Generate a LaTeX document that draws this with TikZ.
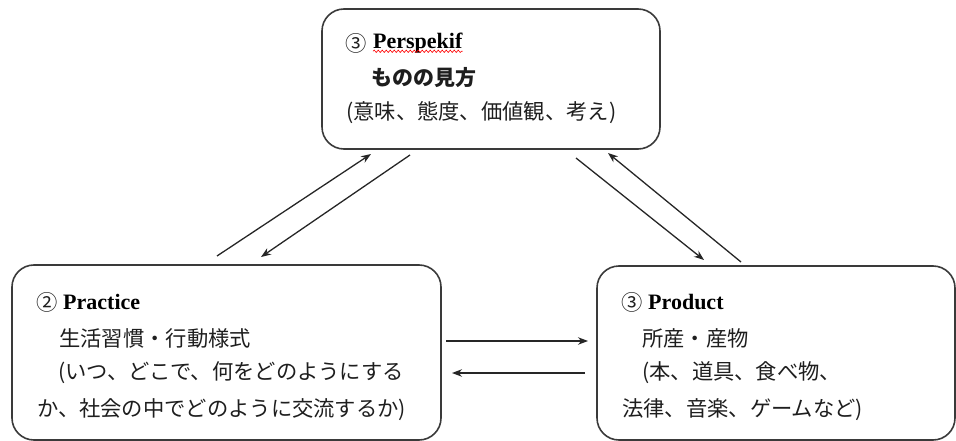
\documentclass[tikz,border=0pt]{standalone}
\usepackage{fontspec}
\setmainfont{Liberation Serif}
\newfontfamily\jp{Noto Sans CJK JP}
\usetikzlibrary{arrows.meta,decorations.pathmorphing}
\definecolor{boxline}{HTML}{3A3A3A}
\definecolor{txt}{HTML}{1E1E1E}
\tikzset{
  box/.style={draw=boxline, line width=1.6pt, rounded corners=22pt, inner sep=0pt},
  txtline/.style={anchor=west, inner sep=0pt, text=txt, font=\jp\fontsize{21.3}{25}\selectfont},
  head/.style={anchor=west, inner sep=0pt, text=black, font=\fontsize{22}{26}\selectfont\bfseries},
  conn/.style={line width=1.3pt, draw=black!85, -{Stealth[length=10pt,width=7.5pt]}}
}
\begin{document}
\begin{tikzpicture}[x=1pt,y=-1pt]
\useasboundingbox (0,0) rectangle (956,441);
% boxes
\node[box, minimum width=338pt, minimum height=140pt] (persp) at (491,79) {};
\node[box, minimum width=429pt, minimum height=175pt] (pract) at (226.5,352.5) {};
\node[box, minimum width=358pt, minimum height=174pt] (prod) at (776,353) {};
% top box text
\node[txtline] (p1a) at (345,43) {③};
\node[head] (p1b) at (373,43) {Perspekif};
\draw[red, line width=0.6pt, decorate, decoration={snake, amplitude=1.2pt, segment length=4pt}] (p1b.south west) ++(0,-2) coordinate (w1) -- (p1b.south east |- w1) coordinate (w2);
\node[txtline, font=\jp\bfseries\fontsize{21}{25}\selectfont] (p2) at (371,78) {ものの見方};
\node[txtline] (p3) at (346,113) {(意味、態度、価値観、考え)};
% left box text
\node[txtline] (l1a) at (36,302) {②};
\node[head] (l1b) at (63,302) {Practice};
\node[txtline] (l2) at (59,338) {生活習慣・行動様式};
\node[txtline] (l3) at (58,373) {(いつ、どこで、何をどのようにする};
\node[txtline] (l4) at (37,410) {か、社会の中でどのように交流するか)};
% right box text
\node[txtline] (r1a) at (621,302) {③};
\node[head] (r1b) at (648,302) {Product};
\node[txtline] (r2) at (642,338) {所産・産物};
\node[txtline] (r3) at (642,373) {(本、道具、食べ物、};
\node[txtline] (r4) at (622,410) {法律、音楽、ゲームなど)};
% connector end points
\coordinate (a1s) at (217,256); \coordinate (a1e) at (371,154);
\coordinate (a2s) at (410,155); \coordinate (a2e) at (261,257);
\coordinate (a3s) at (576,158); \coordinate (a3e) at (704,260);
\coordinate (a4s) at (741,262); \coordinate (a4e) at (608,153);
\coordinate (h1s) at (446,341); \coordinate (h1e) at (588,341);
\coordinate (h2s) at (585,373); \coordinate (h2e) at (452,373);
\draw[conn] (a1s) -- (a1e);
\draw[conn] (a2s) -- (a2e);
\draw[conn] (a3s) -- (a3e);
\draw[conn] (a4s) -- (a4e);
\draw[conn] (h1s) -- (h1e);
\draw[conn] (h2s) -- (h2e);
\end{tikzpicture}
\end{document}
